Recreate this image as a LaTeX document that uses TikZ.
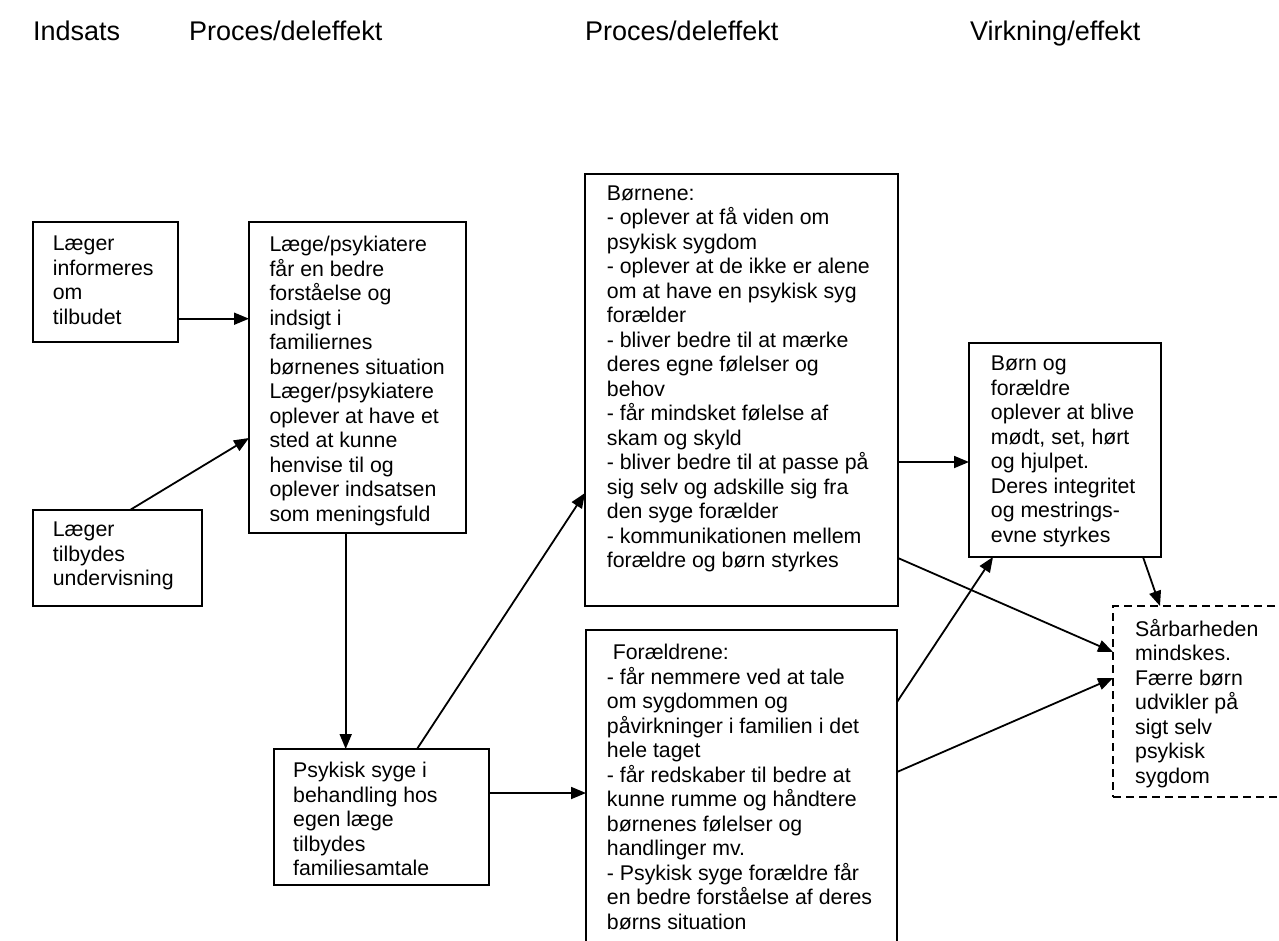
\documentclass[tikz,border=0pt]{standalone}
\usepackage{fontspec}
\setmainfont{Liberation Sans}
\usetikzlibrary{arrows.meta,calc}
\tikzset{
  box/.style={draw, line width=1.8pt, inner sep=0pt, outer sep=0pt, anchor=north west},
  dbox/.style={box, dash pattern=on 8pt off 5pt},
  txt/.style={font=\fontsize{21.3}{24.5}\selectfont, align=left, inner sep=0pt, anchor=north west, execute at begin node=\strut},
  hdr/.style={font=\fontsize{27}{30}\selectfont, inner sep=0pt, anchor=base west},
  arr/.style={line width=1.8pt, -{Triangle[length=15pt,width=12pt]}},
}
\begin{document}
\begin{tikzpicture}[x=1pt,y=-1pt]
\useasboundingbox (0,0) rectangle (1279,940);
\clip (0,0) rectangle (1279,940);
% headers
\node[hdr] (h1) at (33,40) {Indsats};
\node[hdr] (h2) at (189,40) {Proces/deleffekt};
\node[hdr] (h3) at (585,40) {Proces/deleffekt};
\node[hdr] (h4) at (970,40) {Virkning/effekt};
% boxes
\node[box, minimum width=145pt, minimum height=120pt] (A) at (33,222) {};
\node[box, minimum width=217pt, minimum height=311pt] (B) at (249,222) {};
\node[box, minimum width=169pt, minimum height=96pt] (C) at (33,510) {};
\node[box, minimum width=215pt, minimum height=136pt] (D) at (274,749) {};
\node[box, minimum width=313pt, minimum height=432pt] (Bn) at (585,174) {};
\node[box, minimum width=311pt, minimum height=330pt] (Fo) at (586,630) {};
\node[box, minimum width=192pt, minimum height=214pt] (BF) at (969,343) {};
\node[dbox, minimum width=200pt, minimum height=191pt] (S) at (1113,606) {};
% texts
\node[txt] (tA) at (52.7,235.9) {Læger\\informeres\\om\\tilbudet};
\node[txt] (tB) at (269.3,235.9) {Læge/psykiatere\\får en bedre\\forståelse og\\indsigt i\\familiernes\\børnenes situation\\Læger/psykiatere\\oplever at have et\\sted at kunne\\henvise til og\\oplever indsatsen\\som meningsfuld};
\node[txt] (tC) at (52.7,521.9) {Læger\\tilbydes\\undervisning};
\node[txt] (tD) at (293,761.9) {Psykisk syge i\\behandling hos\\egen læge\\tilbydes\\familiesamtale};
\node[txt] (tBn) at (606.7,185.4) {Børnene:\\- oplever at få viden om\\psykisk sygdom\\- oplever at de ikke er alene\\om at have en psykisk syg\\forælder\\- bliver bedre til at mærke\\deres egne følelser og\\behov\\- får mindsket følelse af\\skam og skyld\\- bliver bedre til at passe på\\sig selv og adskille sig fra\\den syge forælder\\- kommunikationen mellem\\forældre og børn styrkes};
\node[txt] (tFo) at (606.7,643.9) {\hspace{5.9pt}Forældrene:\\- får nemmere ved at tale\\om sygdommen og\\påvirkninger i familien i det\\hele taget\\- får redskaber til bedre at\\kunne rumme og håndtere\\børnenes følelser og\\handlinger mv.\\- Psykisk syge forældre får\\en bedre forståelse af deres\\børns situation};
\node[txt] (tBF) at (990.7,355.9) {Børn og\\forældre\\oplever at blive\\mødt, set, hørt\\og hjulpet.\\Deres integritet\\og mestrings-\\evne styrkes};
\node[txt] (tS) at (1135,618.9) {Sårbarheden\\mindskes.\\Færre børn\\udvikler på\\sigt selv\\psykisk\\sygdom};
% arrows
\draw[arr] ($(A.north east)+(0,96.7)$) -- ($(B.north west)+(0,96.7)$);
\draw[arr] ($(C.north west)+(97,0)$) -- ($(B.north west)+(0,216)$);
\draw[arr] ($(B.south west)+(96.7,0)$) -- ($(D.north west)+(71.7,0)$);
\draw[arr] ($(D.north east)+(0,44)$) -- ($(Fo.north west)+(0,163)$);
\draw[arr] ($(D.north west)+(143,0)$) -- ($(Bn.north west)+(0,319)$);
\draw[arr] ($(Bn.north east)+(0,288)$) -- ($(BF.north west)+(0,119)$);
\draw[arr] ($(Bn.north east)+(0,384)$) -- ($(S.north west)+(0,46)$);
\draw[arr] ($(Fo.north east)+(0,72)$) -- ($(BF.south west)+(24,0)$);
\draw[arr] ($(Fo.north east)+(0,142)$) -- ($(S.north west)+(0,72)$);
\draw[arr] ($(BF.south west)+(174,0)$) -- ($(S.north west)+(47,0)$);
\end{tikzpicture}
\end{document}
